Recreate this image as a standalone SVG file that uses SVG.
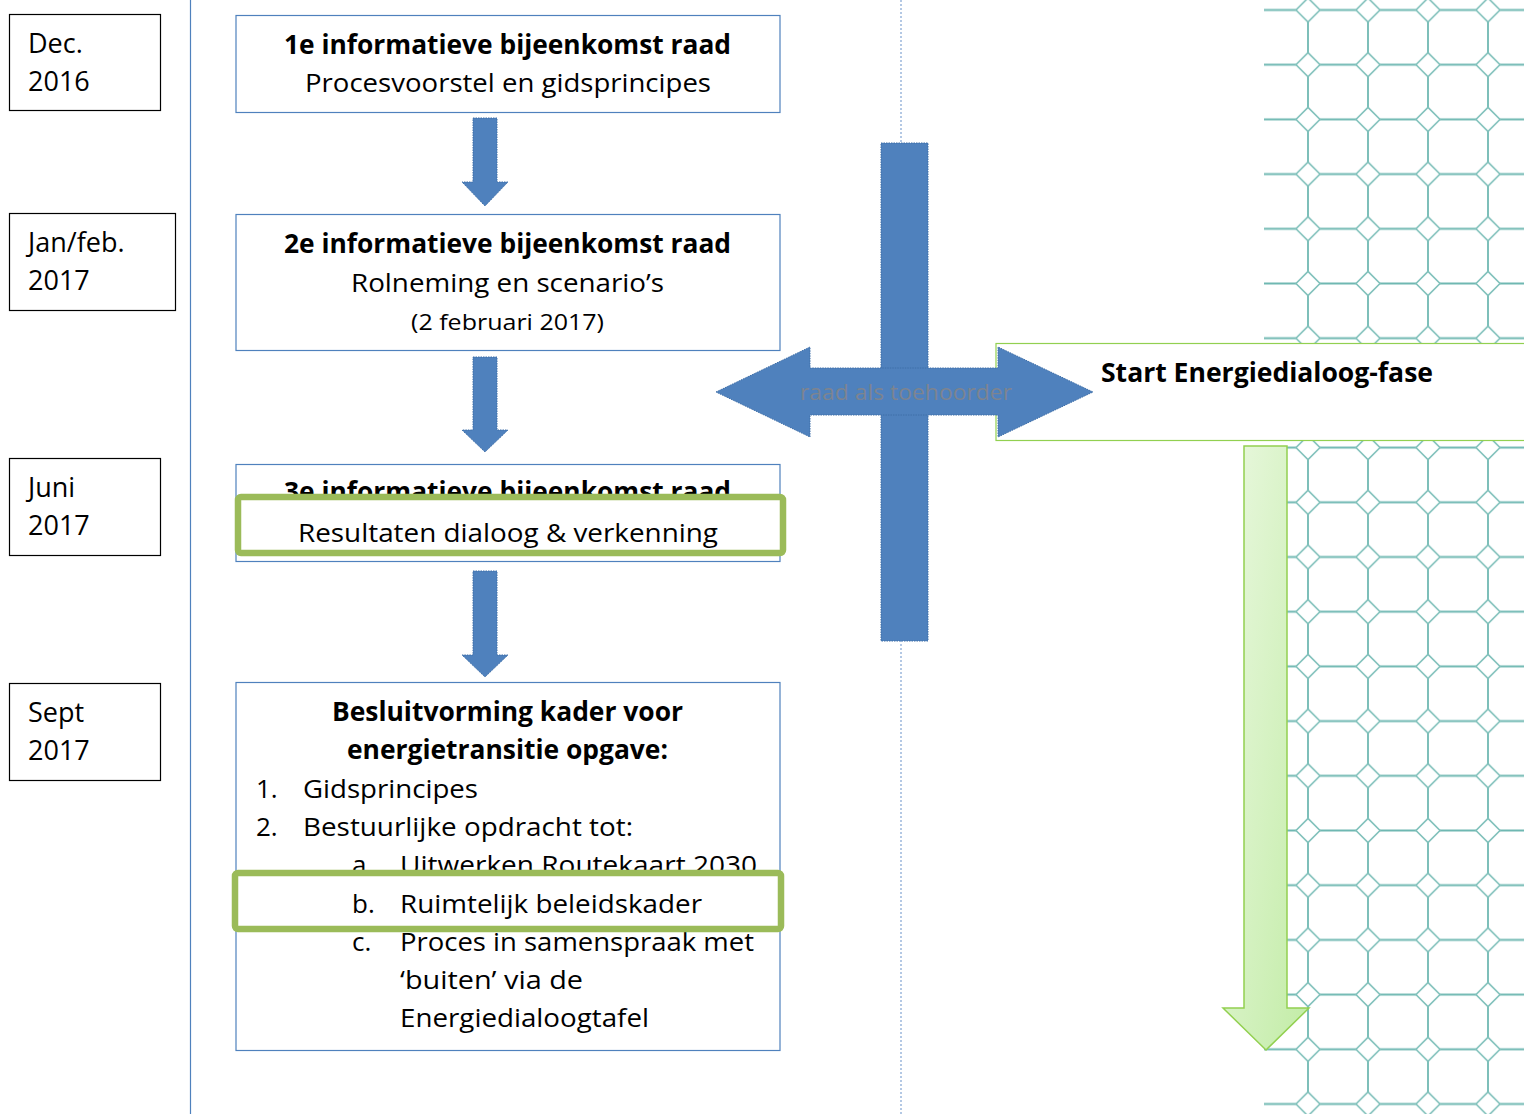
<svg xmlns="http://www.w3.org/2000/svg" width="1524" height="1114" viewBox="0 0 1524 1114">
<style>
text{font-family:"Open Sans","Liberation Sans",Arial,sans-serif;fill:#000}
.t{font-size:26px}
.d{font-size:27px}
.b{font-size:26px;font-weight:bold}
.box{fill:#fff;stroke:#4f81bd;stroke-width:1.2}
.date{fill:#fff;stroke:#000;stroke-width:1.2}
.blue{fill:#4f81bd;stroke:#3f6fa8;stroke-width:1;stroke-dasharray:1.5 1}
.hl{fill:#fff;stroke:#9bbb59;stroke-width:6.5}
.c{text-anchor:middle}
</style>
<defs>
<pattern id="grid" patternUnits="userSpaceOnUse" x="1278" y="-17.35" width="60" height="54.7">
<line x1="0" y1="27.35" x2="60" y2="27.35" stroke="#6fb8b2" stroke-width="1.8"/>
<line x1="30" y1="0" x2="30" y2="54.7" stroke="#6fb8b2" stroke-width="1.8"/>
<polygon points="30,15.35 42,27.35 30,39.35 18,27.35" fill="#fff" stroke="#7fc0ba" stroke-width="1.6"/>
</pattern>
<linearGradient id="gg" x1="0" y1="0" x2="1" y2="1">
<stop offset="0" stop-color="#eaf8e0"/>
<stop offset="1" stop-color="#c2eca6"/>
</linearGradient>
</defs>

<g id="background">
<rect x="1264" y="0" width="260" height="1114" fill="url(#grid)"/>
<line x1="190.5" y1="0" x2="190.5" y2="1114" stroke="#4f81bd" stroke-width="1.2"/>
<line x1="901" y1="0" x2="901" y2="1114" stroke="#9bb7dc" stroke-width="1.5" stroke-dasharray="2 2"/>
</g>

<g id="date-dec2016">
<rect class="date" x="9.5" y="14.5" width="151" height="96"/>
<text class="d" x="28" y="53">Dec.</text>
<text class="d" x="28" y="91">2016</text>
</g>
<g id="date-janfeb2017">
<rect class="date" x="9.5" y="213.5" width="166" height="97"/>
<text class="d" x="28" y="252">Jan/feb.</text>
<text class="d" x="28" y="290">2017</text>
</g>
<g id="date-juni2017">
<rect class="date" x="9.5" y="458.5" width="151" height="97"/>
<text class="d" x="28" y="497">Juni</text>
<text class="d" x="28" y="535">2017</text>
</g>
<g id="date-sept2017">
<rect class="date" x="9.5" y="683.5" width="151" height="97"/>
<text class="d" x="28" y="722">Sept</text>
<text class="d" x="28" y="760">2017</text>
</g>

<g id="node1">
<rect class="box" x="236" y="15.5" width="544" height="97"/>
<text class="b" x="284" y="54" textLength="447" lengthAdjust="spacingAndGlyphs">1e informatieve bijeenkomst raad</text>
<text class="t" x="305" y="92" textLength="406" lengthAdjust="spacingAndGlyphs">Procesvoorstel en gidsprincipes</text>
</g>
<g id="node2">
<rect class="box" x="236" y="214.5" width="544" height="136"/>
<text class="b" x="284" y="253" textLength="447" lengthAdjust="spacingAndGlyphs">2e informatieve bijeenkomst raad</text>
<text class="t" x="351" y="292" textLength="313" lengthAdjust="spacingAndGlyphs">Rolneming en scenario’s</text>
<text x="411" y="330" font-size="22" textLength="193" lengthAdjust="spacingAndGlyphs">(2 februari 2017)</text>
</g>
<g id="node3">
<rect class="box" x="236" y="464.5" width="544" height="97"/>
<text class="b" x="284" y="501" textLength="447" lengthAdjust="spacingAndGlyphs">3e informatieve bijeenkomst raad</text>
<rect class="hl" x="238" y="497" width="545" height="56" rx="3"/>
<text class="t" x="298" y="542" textLength="420" lengthAdjust="spacingAndGlyphs">Resultaten dialoog &amp; verkenning</text>
</g>
<g id="node4">
<rect class="box" x="236" y="682.5" width="544" height="368"/>
<text class="b" x="332" y="721" textLength="351" lengthAdjust="spacingAndGlyphs">Besluitvorming kader voor</text>
<text class="b" x="347" y="759" textLength="321" lengthAdjust="spacingAndGlyphs">energietransitie opgave:</text>
<text class="t" x="256" y="798">1.</text>
<text class="t" x="303" y="798" textLength="175" lengthAdjust="spacingAndGlyphs">Gidsprincipes</text>
<text class="t" x="256" y="836">2.</text>
<text class="t" x="303" y="836" textLength="330" lengthAdjust="spacingAndGlyphs">Bestuurlijke opdracht tot:</text>
<text class="t" x="352" y="874">a.</text>
<text class="t" x="400" y="874" textLength="357" lengthAdjust="spacingAndGlyphs">Uitwerken Routekaart 2030</text>
<text class="t" x="352" y="951">c.</text>
<text class="t" x="400" y="951" textLength="354" lengthAdjust="spacingAndGlyphs">Proces in samenspraak met</text>
<rect class="hl" x="235" y="873" width="546" height="56" rx="3"/>
<text class="t" x="352" y="913">b.</text>
<text class="t" x="400" y="913" textLength="302" lengthAdjust="spacingAndGlyphs">Ruimtelijk beleidskader</text>
<text class="t" x="400" y="989" textLength="183" lengthAdjust="spacingAndGlyphs">‘buiten’ via de</text>
<text class="t" x="400" y="1027" textLength="249" lengthAdjust="spacingAndGlyphs">Energiedialoogtafel</text>
</g>

<g id="node-start">
<rect x="996" y="343.5" width="540" height="97" fill="#fff" stroke="#92d050" stroke-width="1.2"/>
<text class="b" x="1101" y="382" textLength="332" lengthAdjust="spacingAndGlyphs">Start Energiedialoog-fase</text>
</g>

<g id="connectors">
<polygon class="blue" points="473,118 497,118 497,182 508,182 485,206 462,182 473,182"/>
<polygon class="blue" points="473,357 497,357 497,430 508,430 485,452 462,430 473,430"/>
<polygon class="blue" points="473,571 497,571 497,655 508,655 485,677 462,655 473,655"/>
<g id="cross">
<rect x="881" y="143" width="47" height="498" fill="#4f81bd" stroke="#3f6fa8" stroke-width="1" stroke-dasharray="1.5 1"/>
<polygon class="blue" points="716,392 810,347 810,368 998,368 998,347 1093,392 998,437 998,415 810,415 810,437"/>
<rect x="882" y="369" width="45" height="45" fill="#4f81bd"/>
<text x="906" y="400" font-size="22" class="c" textLength="212" lengthAdjust="spacingAndGlyphs" style="fill:#7d8490">raad als toehoorder</text>
</g>
<polygon points="1244,446 1287,446 1287,1008 1309,1008 1266,1050 1223,1008 1244,1008" fill="url(#gg)" stroke="#92d050" stroke-width="1.5"/>
</g>
</svg>
